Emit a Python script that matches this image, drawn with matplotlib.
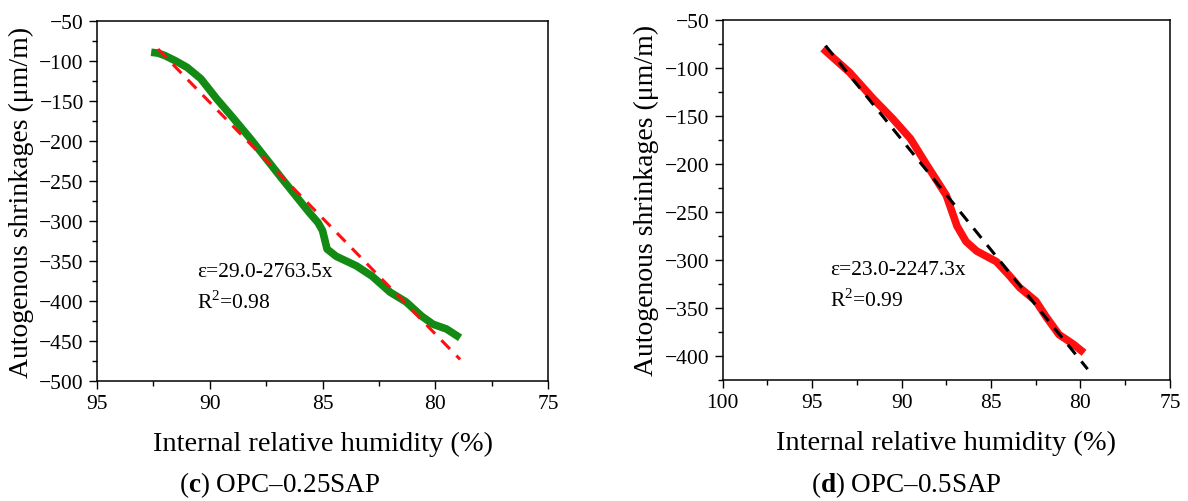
import matplotlib.pyplot as plt
from matplotlib.ticker import MultipleLocator

plt.rcParams['font.family'] = ['Liberation Serif', 'DejaVu Serif']
plt.rcParams['mathtext.fontset'] = 'custom'
plt.rcParams['mathtext.rm'] = 'Liberation Serif'
plt.rcParams['mathtext.bf'] = 'Liberation Serif:bold'

# (c) OPC-0.25SAP : humedad interna vs retraccion autogena
rh_c = [92.6, 92.3, 92.0, 91.5, 91.0, 90.4, 89.7, 89.0, 88.2, 87.5, 86.8, 86.2, 85.6,
        85.2, 85.0, 84.8, 84.4, 83.5, 82.8, 82.0, 81.3, 80.6, 80.1, 79.5, 78.9]
eps_c = [-89, -90, -93, -100, -108, -122, -147, -170, -197, -222, -247, -268, -289,
         -302, -312, -335, -344, -356, -369, -389, -401, -419, -429, -435, -446]
fit_c_x = [92.3, 78.9]
fit_c_y = [-85, -473]

# (d) OPC-0.5SAP
rh_d = [94.4, 92.9, 91.6, 90.5, 89.5, 88.6, 87.5, 86.9, 86.4, 85.8, 84.7, 84.0,
        83.4, 82.5, 81.9, 81.2, 80.4, 79.8]
eps_d = [-80, -105, -132, -153, -174, -201, -233, -265, -281, -291, -302, -316,
         -329, -343, -360, -378, -388, -397]
fit_d_x = [94.25, 79.6]
fit_d_y = [-77, -414]

fig = plt.figure(figsize=(11.88, 5.02), dpi=100)
ax1 = fig.add_axes([0.0817, 0.239, 0.3796, 0.717])
ax2 = fig.add_axes([0.6083, 0.2416, 0.3765, 0.7171])


def estilo(ax, xlim, ylim):
    ax.set_xlim(*xlim)
    ax.set_ylim(*ylim)
    ax.xaxis.set_major_locator(MultipleLocator(5))
    ax.xaxis.set_minor_locator(MultipleLocator(2.5))
    ax.yaxis.set_major_locator(MultipleLocator(50))
    ax.yaxis.set_minor_locator(MultipleLocator(25))
    ax.tick_params(which='major', direction='out', length=6, width=1, labelsize=15.5)
    ax.tick_params(which='minor', direction='out', length=3.5, width=1)
    for s in ax.spines.values():
        s.set_linewidth(1.1)
    ax.set_ylabel('Autogenous shrinkages (μm/m)', fontsize=20)
    ax.set_xlabel('Internal relative humidity (%)', fontsize=20.5, labelpad=13)


ax1.plot(rh_c, eps_c, color='#138a13', lw=5.5, solid_capstyle='butt', solid_joinstyle='round')
ax1.plot(fit_c_x, fit_c_y, color='#ff1010', lw=2.2, ls=(0, (4, 3)))
estilo(ax1, (95, 75), (-500, -50))
ax1.text(0.222, 0.303, 'ε=29.0-2763.5x', transform=ax1.transAxes, fontsize=15.5, va='center')
ax1.text(0.222, 0.222, 'R$^2$=0.98', transform=ax1.transAxes, fontsize=15.5, va='center')

ax2.plot(rh_d, eps_d, color='#ff1010', lw=5.5, solid_capstyle='butt', solid_joinstyle='round')
ax2.plot(fit_d_x, fit_d_y, color='black', lw=2.2, ls=(0, (4, 3)))
estilo(ax2, (100, 75), (-425, -50))
ax2.text(0.24, 0.3075, 'ε=23.0-2247.3x', transform=ax2.transAxes, fontsize=15.5, va='center')
ax2.text(0.24, 0.224, 'R$^2$=0.99', transform=ax2.transAxes, fontsize=15.5, va='center')

fig.text(280 / 1188, 1 - 485 / 502, '($\\mathbf{c}$) OPC–0.25SAP', fontsize=19.5, ha='center', va='center')
fig.text(906 / 1188, 1 - 485 / 502, '($\\mathbf{d}$) OPC–0.5SAP', fontsize=19.5, ha='center', va='center')

fig.savefig('out.png', dpi=100)
